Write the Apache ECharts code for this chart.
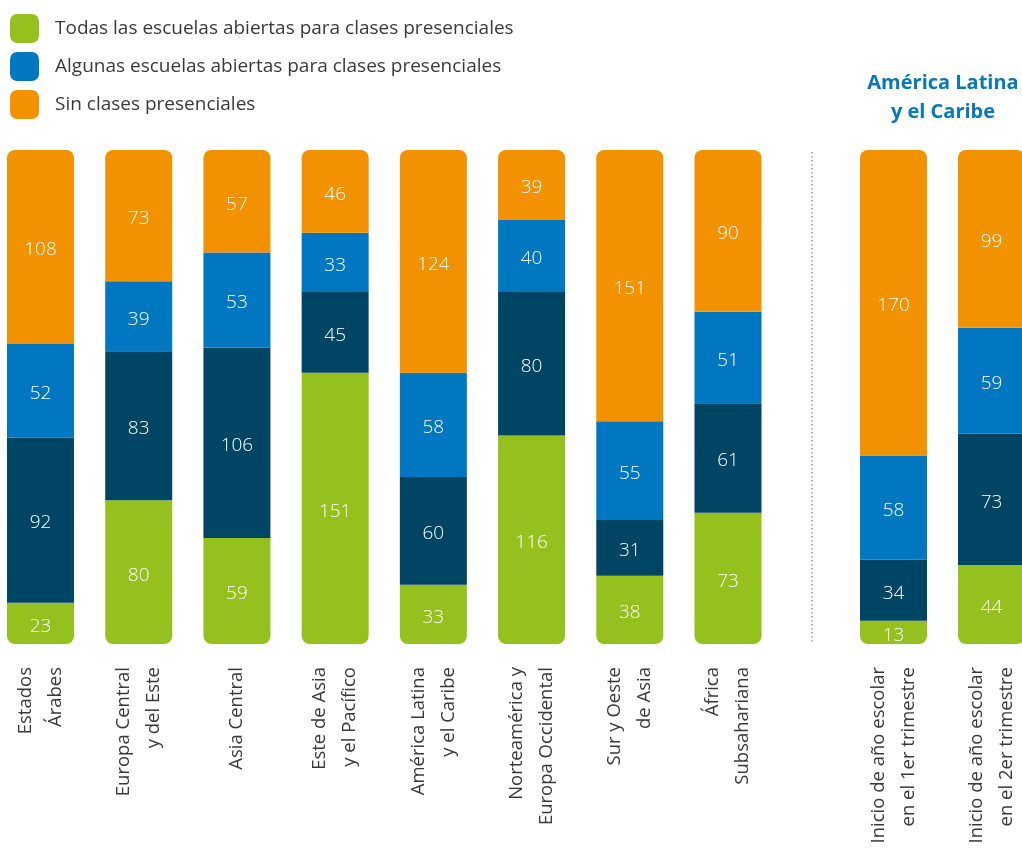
<!DOCTYPE html>
<html>
<head>
<meta charset="utf-8">
<script src="https://cdn.jsdelivr.net/npm/echarts@6/dist/echarts.min.js"></script>
<style>
html,body{margin:0;padding:0;background:#fff;}
#c{width:1022px;height:852px;}
</style>
</head>
<body>
<div id="c"></div>
<script>
const categories = ['Estados\nÁrabes', 'Europa Central\ny del Este', 'Asia Central', 'Este de Asia\ny el Pacífico', 'América Latina\ny el Caribe', 'Norteamérica y\nEuropa Occidental', 'Sur y Oeste\nde Asia', 'África\nSubsahariana'];
const todas = [23, 80, 59, 151, 33, 116, 38, 73];
const parcial = [92, 83, 106, 45, 60, 80, 31, 61];
const algunas = [52, 39, 53, 33, 58, 40, 55, 51];
const sin = [108, 73, 57, 46, 124, 39, 151, 90];

const lacCategories = ['Inicio de año escolar\nen el 1er trimestre', 'Inicio de año escolar\nen el 2er trimestre'];
const lacTodas = [13, 44];
const lacParcial = [34, 73];
const lacAlgunas = [58, 59];
const lacSin = [170, 99];

const names = ['Todas las escuelas abiertas para clases presenciales', 'Algunas escuelas abiertas (parcial)', 'Algunas escuelas abiertas para clases presenciales', 'Sin clases presenciales'];
const colors = ['#95c11f', '#004563', '#0077c0', '#f39200'];
const FONT = '"Open Sans", "Noto Sans", sans-serif';

function mk(name, data, color, idx, radius) {
  return {
    name: name, type: 'bar', stack: 's' + idx, data: data,
    xAxisIndex: idx, yAxisIndex: idx, barWidth: 67,
    itemStyle: { color: color, borderRadius: radius },
    label: { show: true, position: 'inside', offset: [0, 3], color: '#fff', fontSize: 19, fontFamily: FONT, fontWeight: 300 },
    emphasis: { disabled: true }
  };
}
const bottomR = [0, 0, 8, 8], topR = [8, 8, 0, 0], noR = 0;

const chart = echarts.init(document.getElementById('c'));
const xAxisBase = {
  type: 'category', boundaryGap: false,
  axisLine: { show: false }, axisTick: { show: false },
  splitLine: { show: false },
  axisLabel: { interval: 0, rotate: 90, fontSize: 18.5, lineHeight: 30, color: '#3a3a3a', margin: 23, fontFamily: FONT }
};
const yAxisBase = { type: 'value', min: 0, max: 275, show: false, splitLine: { show: false } };

chart.setOption({
  animation: false,
  textStyle: { fontFamily: FONT },
  legend: {
    orient: 'vertical', left: 5, top: 9, itemWidth: 29, itemHeight: 29, itemGap: 9,
    icon: 'roundRect',
    data: [names[0], names[2], names[3]],
    textStyle: { fontSize: 19, color: '#3a3a3a', fontFamily: FONT, padding: [0, 0, 0, 11] },
    selectedMode: false
  },
  title: {
    text: 'América Latina\ny el Caribe', left: 938, top: 64, textAlign: 'center',
    textStyle: { fontSize: 20, fontWeight: 'bold', color: '#0a77bd', lineHeight: 29, fontFamily: FONT }
  },
  grid: [
    { left: 40.5, width: 687.5, top: 150, height: 494 },
    { left: 893.5, width: 98, top: 150, height: 494 }
  ],
  xAxis: [
    Object.assign({}, xAxisBase, { gridIndex: 0, data: categories }),
    Object.assign({}, xAxisBase, { gridIndex: 1, data: lacCategories })
  ],
  yAxis: [
    Object.assign({}, yAxisBase, { gridIndex: 0 }),
    Object.assign({}, yAxisBase, { gridIndex: 1 })
  ],
  graphic: [{
    type: 'line', shape: { x1: 812, y1: 152, x2: 812, y2: 642 },
    style: { stroke: '#8a8a8a', lineWidth: 1.2, lineDash: [1.5, 2.5] }
  }],
  series: [
    mk(names[0], todas, colors[0], 0, bottomR),
    mk(names[1], parcial, colors[1], 0, noR),
    mk(names[2], algunas, colors[2], 0, noR),
    mk(names[3], sin, colors[3], 0, topR),
    mk(names[0], lacTodas, colors[0], 1, bottomR),
    mk(names[1], lacParcial, colors[1], 1, noR),
    mk(names[2], lacAlgunas, colors[2], 1, noR),
    mk(names[3], lacSin, colors[3], 1, topR)
  ]
});
</script>
</body>
</html>
